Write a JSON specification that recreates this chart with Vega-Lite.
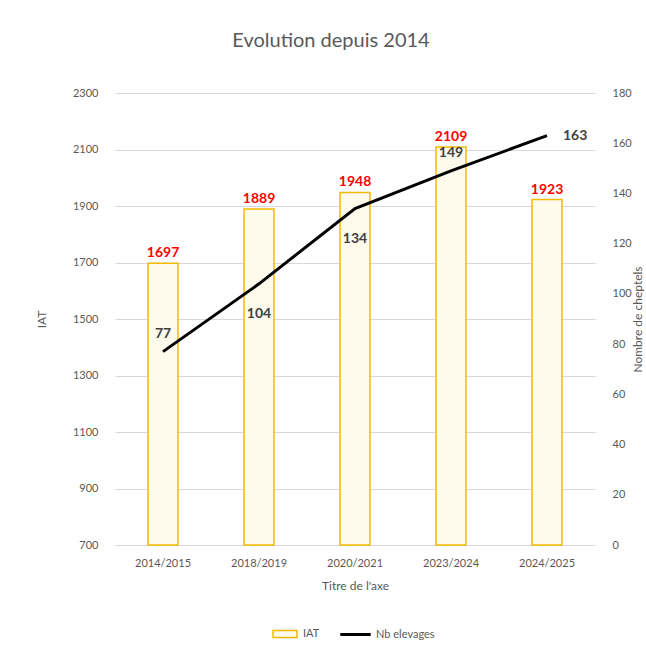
{
  "$schema": "https://vega.github.io/schema/vega-lite/v6.json",
  "width": 480,
  "height": 452,
  "autosize": {"type": "none"},
  "padding": {"left": 115, "top": 93, "right": 51, "bottom": 108},
  "background": "white",
  "config": {
    "font": "Lato",
    "view": {"stroke": null},
    "axis": {"labelColor": "#595959", "titleColor": "#595959", "labelFontSize": 11, "titleFontSize": 12, "titleFontWeight": "normal", "labelFont": "Lato", "titleFont": "Lato", "labelOverlap": false},
    "legend": {"labelColor": "#595959", "labelFontSize": 11, "labelFont": "Lato", "layout": {"bottom": {"anchor": "middle", "direction": "horizontal", "margin": 26}}}
  },
  "title": {"text": "Evolution depuis 2014", "fontSize": 20, "fontWeight": "normal", "color": "#595959", "font": "Lato", "offset": 36, "anchor": "middle", "dx": -24},
  "data": {"values": [
    {"periode": "2014/2015", "IAT": 1697, "nb": 77},
    {"periode": "2018/2019", "IAT": 1889, "nb": 104},
    {"periode": "2020/2021", "IAT": 1948, "nb": 134},
    {"periode": "2023/2024", "IAT": 2109, "nb": 149},
    {"periode": "2024/2025", "IAT": 1923, "nb": 163}
  ]},
  "encoding": {
    "x": {"field": "periode", "type": "nominal", "sort": null, "scale": {"paddingInner": 0, "paddingOuter": 0},
      "axis": {"title": "Titre de l'axe", "labelAngle": 0, "ticks": false, "domain": false, "labelPadding": 12, "titlePadding": 12}}
  },
  "layer": [
    {
      "layer": [
        {
          "mark": {"type": "bar", "width": {"band": 0.3125}, "stroke": "#F5B800", "strokeWidth": 1.5},
          "encoding": {
            "y": {"field": "IAT", "type": "quantitative", "scale": {"domain": [700, 2300], "zero": false, "nice": false},
              "axis": {"title": "IAT", "values": [700, 900, 1100, 1300, 1500, 1700, 1900, 2100, 2300], "format": "d", "grid": true, "gridColor": "#D9D9D9", "domain": false, "ticks": false, "labelPadding": 17, "titlePadding": 24}},
            "y2": {"datum": 700},
            "fill": {"datum": "IAT", "scale": {"domain": ["IAT"], "range": ["#FFFAEB"]},
              "legend": {"title": null, "orient": "bottom", "symbolType": "M-1.5,-0.45H1.5V0.45H-1.5Z", "symbolStrokeColor": "#F5B800", "symbolStrokeWidth": 1.5, "symbolSize": 256, "offset": 34, "labelOffset": 9}}
          }
        },
        {
          "mark": {"type": "text", "dy": -10, "color": "#FF0000", "fontWeight": "bold", "fontSize": 14, "font": "Lato"},
          "encoding": {
            "y": {"field": "IAT", "type": "quantitative"},
            "text": {"field": "IAT", "type": "quantitative"}
          }
        }
      ]
    },
    {
      "layer": [
        {
          "mark": {"type": "line", "strokeWidth": 3},
          "encoding": {
            "y": {"field": "nb", "type": "quantitative", "scale": {"domain": [0, 180], "nice": false},
              "axis": {"title": "Nombre de cheptels", "titleAngle": 270, "orient": "right", "values": [0, 20, 40, 60, 80, 100, 120, 140, 160, 180], "grid": false, "domain": false, "ticks": false, "labelPadding": 17, "titlePadding": 13}},
            "stroke": {"datum": "Nb elevages", "scale": {"domain": ["Nb elevages"], "range": ["black"]},
              "legend": {"title": null, "orient": "bottom", "symbolType": "M-1.9,0H1.9", "symbolStrokeWidth": 3, "symbolSize": 256, "offset": 34, "labelOffset": 11}}
          }
        },
        {
          "transform": [{"filter": "datum.nb == 77 || datum.nb == 149"}],
          "mark": {"type": "text", "dy": -18, "color": "#404040", "fontWeight": "bold", "fontSize": 14, "font": "Lato"},
          "encoding": {
            "y": {"field": "nb", "type": "quantitative"},
            "text": {"field": "nb", "type": "quantitative"}
          }
        },
        {
          "transform": [{"filter": "datum.nb == 104 || datum.nb == 134"}],
          "mark": {"type": "text", "dy": 30, "color": "#404040", "fontWeight": "bold", "fontSize": 14, "font": "Lato"},
          "encoding": {
            "y": {"field": "nb", "type": "quantitative"},
            "text": {"field": "nb", "type": "quantitative"}
          }
        },
        {
          "transform": [{"filter": "datum.nb == 163"}],
          "mark": {"type": "text", "dx": 16, "align": "left", "color": "#404040", "fontWeight": "bold", "fontSize": 14, "font": "Lato"},
          "encoding": {
            "y": {"field": "nb", "type": "quantitative"},
            "text": {"field": "nb", "type": "quantitative"}
          }
        }
      ]
    }
  ],
  "resolve": {"scale": {"y": "independent"}}
}
